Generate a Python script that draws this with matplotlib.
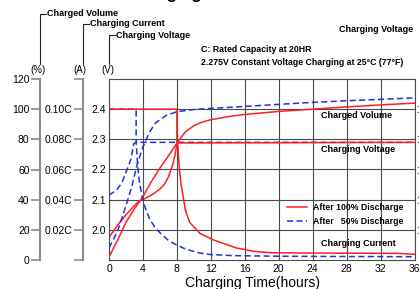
import matplotlib
matplotlib.use('Agg')
import matplotlib.pyplot as plt
from matplotlib.lines import Line2D

plt.rcParams['font.family'] = ['Liberation Sans', 'DejaVu Sans']

# ---- data ----
hours_ticks = [0, 4, 8, 12, 16, 20, 24, 28, 32, 36]
pct_ticks = [0, 20, 40, 60, 80, 100, 120]
amp_ticks = [0, 0.02, 0.04, 0.06, 0.08, 0.10, 0.12]
amp_labels = ['', '0.02C', '0.04C', '0.06C', '0.08C', '0.10C', '']
volt_ticks = [2.0, 2.1, 2.2, 2.3, 2.4]
volt12_ticks = [12.0, 12.6, 13.2, 13.8, 14.4]

# after 100% discharge (red)
red_vol_t = [0, 1, 2, 3, 4, 5, 6, 7, 8, 9, 10, 11, 12, 14, 16, 20, 24, 28, 32, 36]
red_vol = [2, 13, 25, 34, 42, 52, 61, 69, 77.5, 85, 89, 91.5, 93, 95, 96.5, 98.5, 100, 101.5, 102.8, 104]
red_volt_t = [0, 1, 2, 3, 3.5, 4, 5, 6, 6.5, 7, 7.5, 7.8, 8, 36]
red_volt = [1.975, 2.015, 2.05, 2.08, 2.095, 2.1, 2.115, 2.135, 2.15, 2.175, 2.215, 2.25, 2.288, 2.29]
red_cur_t = [0, 8, 8, 8.1, 8.3, 8.5, 8.8, 9.0, 9.5, 10.7, 12.3, 15, 17, 19, 24, 34, 36]
red_cur = [0.100, 0.100, 0.078, 0.077, 0.060, 0.050, 0.040, 0.033, 0.025, 0.0177, 0.0133,
           0.008, 0.0058, 0.0048, 0.0046, 0.0044, 0.0038]

# after 50% discharge (blue)
blue_vol_t = [0, 1, 2, 2.7, 3.3, 4, 4.8, 5.5, 6.8, 8, 10, 12, 16, 20, 24, 28, 32, 36]
blue_vol = [8, 19, 36, 49, 63, 75, 85, 91, 96, 98.3, 99.8, 100.5, 101.8, 103.2, 104.5, 105.6, 106.5, 107.5]
blue_volt_t = [0, 0.9, 1.5, 2.1, 2.6, 2.9, 3.2, 36]
blue_volt = [2.115, 2.132, 2.155, 2.198, 2.235, 2.285, 2.29, 2.29]
blue_cur_t = [0, 3.2, 3.2, 3.35, 3.55, 3.9, 4.3, 4.8, 5.5, 6.2, 7.0, 7.8, 8.8, 9.8, 10.7, 12, 14.6, 20, 28, 36]
blue_cur = [0.100, 0.100, 0.078, 0.065, 0.053, 0.042, 0.034, 0.027, 0.021, 0.017, 0.013, 0.0105,
            0.0078, 0.006, 0.0046, 0.0036, 0.0029, 0.0025, 0.0023, 0.0022]

RED = '#ff1f1f'
BLUE = '#2030e0'
GRID = '#4a4a4a'
SPINE = '#8c8c8c'

W, H = 419, 289
fig = plt.figure(figsize=(W / 100, H / 100), dpi=100)


def fx(px):
    return px / W


def fy(py):
    return 1 - py / H


x0, x1, y0, y1 = 109, 414.5, 260, 79
pos = [fx(x0), fy(y0), fx(x1) - fx(x0), fy(y1) - fy(y0)]

# voltage axis (main box with grid)
ax_v = fig.add_axes(pos)
ax_v.set_xlim(0, 36)
ax_v.set_ylim(1.9, 2.5)
ax_v.set_xticks(hours_ticks)
ax_v.set_yticks(volt_ticks)
ax_v.set_yticklabels(['%.1f' % v for v in volt_ticks])
ax_v.grid(True, color=GRID, lw=0.8)
ax_v.tick_params(length=0, labelsize=7.5, pad=2)
ax_v.tick_params(axis='x', pad=3)
for s in ax_v.spines.values():
    s.set_color(GRID)
    s.set_linewidth(0.8)
ax_v.set_axisbelow(True)


def side_axis(offset_px, ylim, ticks):
    a = fig.add_axes(pos, sharex=ax_v)
    a.patch.set_visible(False)
    for k in ['right', 'top', 'bottom']:
        a.spines[k].set_visible(False)
    a.spines['left'].set_position(('axes', (offset_px - x0) / (x1 - x0)))
    a.spines['left'].set_color(SPINE)
    a.spines['left'].set_linewidth(1.5)
    a.set_ylim(*ylim)
    a.set_yticks(ticks)
    a.tick_params(axis='y', direction='out', length=6.5, width=1.2, color=SPINE,
                  labelsize=7.5, pad=1)
    a.tick_params(axis='x', bottom=False, labelbottom=False)
    return a


ax_p = side_axis(40, (0, 120), pct_ticks)
ax_a = side_axis(83, (0, 0.12), amp_ticks)
ax_a.set_yticklabels(amp_labels)

# right-hand 12V scale (cut off by the image edge, as in the original)
ax_r = ax_v.twinx()
ax_r.set_ylim(1.9 * 6, 2.5 * 6)
ax_r.set_yticks(volt12_ticks)
ax_r.set_yticklabels(['%.1f' % v for v in volt12_ticks])
ax_r.tick_params(length=0, labelsize=7.5, pad=1.5)
for s in ax_r.spines.values():
    s.set_visible(False)

# curves
dash = (0, (4, 2.2))
ax_v.plot(blue_volt_t, blue_volt, color=BLUE, lw=1.1, ls=dash)
ax_v.plot(red_volt_t, red_volt, color=RED, lw=1.1)
ax_p.plot(blue_vol_t, blue_vol, color=BLUE, lw=1.1, ls=dash)
ax_p.plot(red_vol_t, red_vol, color=RED, lw=1.1)
lb, = ax_a.plot(blue_cur_t, blue_cur, color=BLUE, lw=1.1, ls=dash)
lr, = ax_a.plot(red_cur_t, red_cur, color=RED, lw=1.1)
for a in (ax_v, ax_p, ax_a):
    a.set_xlim(0, 36)

fig.legend([lr, lb], ['After 100% Discharge', 'After   50% Discharge'],
           loc='center left', bbox_to_anchor=(fx(287), fy(214.5)), frameon=False,
           prop=dict(size=6.3, weight='bold'), handlelength=2.3, handletextpad=0.7,
           labelspacing=0.6, borderpad=0, borderaxespad=0)

# labels inside the plot
tk = dict(fontsize=6.5, fontweight='bold', va='center', ha='left')
fig.text(fx(321), fy(115), 'Charged Volume', **tk)
fig.text(fx(321), fy(149), 'Charging Voltage', **tk)
fig.text(fx(321), fy(244), 'Charging Current', **tk)

# axis captions and brackets
fig.text(fx(38), fy(70), '(%)', fontsize=7, ha='center', va='center')
fig.text(fx(80), fy(70), '(A)', fontsize=7, ha='center', va='center')
fig.text(fx(108), fy(70), '(V)', fontsize=7, ha='center', va='center')
for bx, by, label in [(40, 14, 'Charged Volume'), (83, 24, 'Charging Current'),
                      (109, 35, 'Charging Voltage')]:
    fig.add_artist(Line2D([fx(bx), fx(bx), fx(bx + 6)], [fy(64), fy(by), fy(by)],
                          color='#222222', lw=0.8))
    fig.text(fx(bx + 7), fy(by), label, **tk)

fig.text(fx(413), fy(29.5), 'Charging Voltage', fontsize=6.5, fontweight='bold',
         ha='right', va='center')
fig.text(fx(201), fy(50), 'C: Rated Capacity at 20HR', fontsize=6.3, fontweight='bold',
         ha='left', va='center')
fig.text(fx(201), fy(62.5), '2.275V Constant Voltage Charging at 25\u00b0C (77\u00b0F)',
         fontsize=6.3, fontweight='bold', ha='left', va='center')
fig.text(fx(129), fy(-1.5), 'Charging Characteristics', fontsize=12, fontweight='bold',
         ha='left', va='baseline')

fig.text(fx(252), fy(283), 'Charging Time(hours)', fontsize=10, ha='center', va='center')

fig.savefig('out.png', dpi=100)
